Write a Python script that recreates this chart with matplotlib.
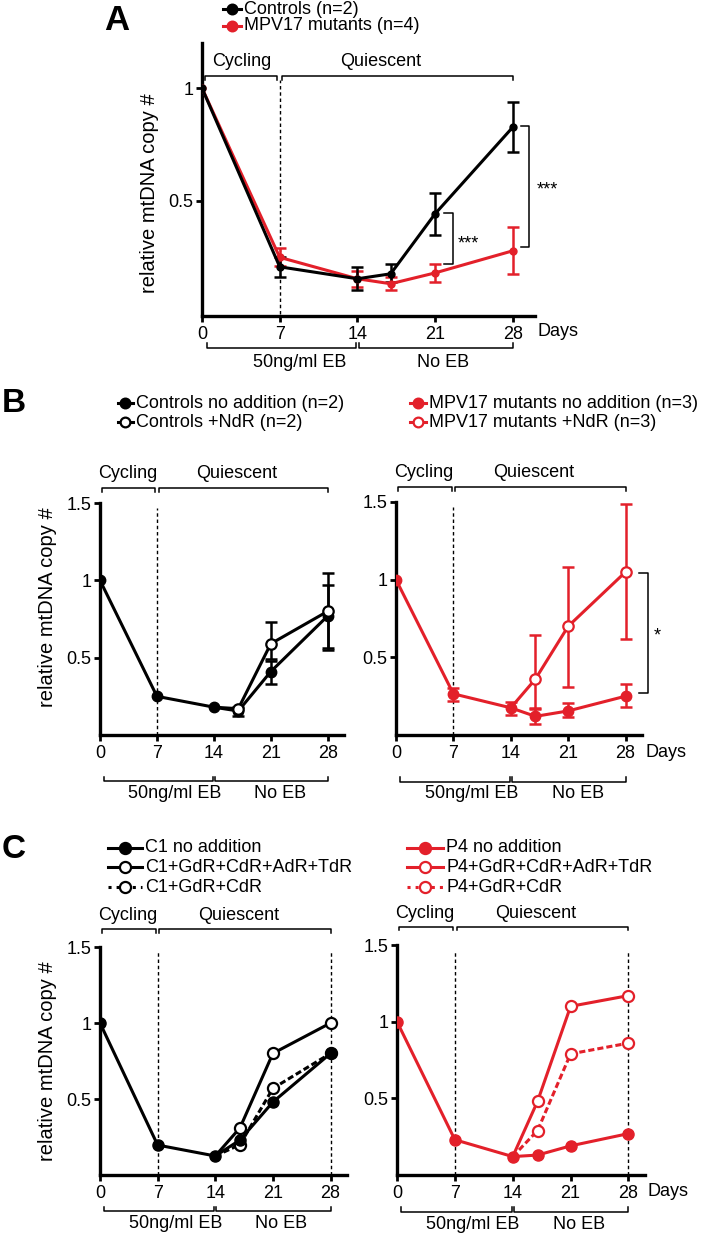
import matplotlib
matplotlib.use("Agg")
import matplotlib.pyplot as plt
from matplotlib.lines import Line2D

plt.rcParams['font.family'] = ['Liberation Sans', 'DejaVu Sans']

RED = '#e3202a'
W, H = 710, 1235

days = [0, 7, 14, 17, 21, 28]
late_days = [14, 17, 21, 28]
xticks = [0, 7, 14, 21, 28]

# panel A
a_ctrl = [1.0, 0.208, 0.155, 0.177, 0.443, 0.827]
a_ctrl_lo = [None, 0.165, 0.105, 0.14, 0.35, 0.717]
a_ctrl_hi = [None, 0.25, 0.205, 0.22, 0.535, 0.94]
a_mut = [1.0, 0.25, 0.155, 0.133, 0.181, 0.279]
a_mut_lo = [None, 0.21, 0.12, 0.105, 0.14, 0.177]
a_mut_hi = [None, 0.29, 0.19, 0.165, 0.22, 0.385]

# panel B
b_ctrl = [1.0, 0.25, 0.18, 0.155, 0.41, 0.77]
b_ctrl_lo = [None, None, None, 0.12, 0.33, 0.55]
b_ctrl_hi = [None, None, None, 0.18, 0.48, 1.05]
b_ctrl_ndr = [0.18, 0.17, 0.59, 0.80]
b_ctrl_ndr_lo = [None, None, 0.49, 0.56]
b_ctrl_ndr_hi = [None, None, 0.73, 0.97]
b_mut = [1.0, 0.265, 0.175, 0.12, 0.155, 0.25]
b_mut_lo = [None, 0.22, 0.13, 0.07, 0.115, 0.18]
b_mut_hi = [None, 0.30, 0.21, 0.175, 0.205, 0.33]
b_mut_ndr = [0.175, 0.36, 0.70, 1.05]
b_mut_ndr_lo = [None, 0.17, 0.31, 0.62]
b_mut_ndr_hi = [None, 0.645, 1.08, 1.49]

# panel C
c1 = [1.0, 0.197, 0.125, 0.23, 0.48, 0.80]
c1_all = [0.125, 0.31, 0.80, 1.0]
c1_gc = [0.125, 0.20, 0.57, 0.80]
p4 = [1.0, 0.23, 0.12, 0.13, 0.19, 0.27]
p4_all = [0.12, 0.48, 1.10, 1.17]
p4_gc = [0.12, 0.29, 0.79, 0.86]

FS = 13
YFS = 14.5


def setup(ax, ylim, yticks, ylabels):
    ax.set_xlim(0, 30)
    ax.set_ylim(*ylim)
    ax.spines['top'].set_visible(False)
    ax.spines['right'].set_visible(False)
    ax.spines['left'].set_linewidth(2.4)
    ax.spines['bottom'].set_linewidth(2.4)
    ax.set_xticks(xticks)
    ax.set_yticks(yticks)
    ax.set_yticklabels(ylabels)
    ax.tick_params(direction='out', length=4, width=2, labelsize=FS, pad=2)
    ax.tick_params(axis='x', pad=3.5)


def errs(ax, x, y, lo, hi, color):
    xs, ys, el, eh = [], [], [], []
    for xi, yi, l, h in zip(x, y, lo, hi):
        if l is None:
            continue
        xs.append(xi); ys.append(yi); el.append(yi - l); eh.append(h - yi)
    ax.errorbar(xs, ys, yerr=[el, eh], fmt='none', ecolor=color,
                elinewidth=1.8, capsize=4, capthick=1.8, zorder=2)


def phase(ax, y, tick, ty, cx, qx):
    for x0, x1 in [(0.25, 6.8), (7.2, 28)]:
        ax.plot([x0, x0, x1, x1], [y - tick, y, y, y - tick], color='k',
                lw=1.1, clip_on=False)
    ax.text(cx, ty, 'Cycling', ha='center', va='center', fontsize=FS)
    ax.text(qx, ty, 'Quiescent', ha='center', va='center', fontsize=FS)


def eb(ax, y, tick, ty, ex, nx):
    for x0, x1 in [(0.45, 13.9), (14.1, 28)]:
        ax.plot([x0, x0, x1, x1], [y + tick, y, y, y + tick], color='k',
                lw=1.1, clip_on=False)
    ax.text(ex, ty, '50ng/ml EB', ha='center', va='center', fontsize=FS)
    ax.text(nx, ty, 'No EB', ha='center', va='center', fontsize=FS)


def sig(ax, x, y0, y1, w, label, lx, ly):
    ax.plot([x - w, x, x, x - w], [y1, y1, y0, y0], color='k', lw=1.1,
            clip_on=False)
    ax.text(lx, ly, label, ha='center', va='center', fontsize=FS)


def vdash(ax, x, top):
    ax.plot([x, x], [0, top], color='k', lw=1, ls=(0, (2.5, 2)), clip_on=False)


def open_series(ax, y, color, ls='-', ms=7.5, z=3):
    ax.plot(late_days, y, color=color, lw=2.2, ls=ls, marker='o', ms=ms,
            mfc='white', mec=color, mew=1.6, markevery=[1, 2, 3], zorder=z)


def leg_entry(fig, px, py, color, text, filled=True, x0=None, x1=None,
              ls='-', ms=7):
    fx = lambda v: v / W
    fy = 1 - py / H
    if x0 is not None:
        fig.add_artist(Line2D([fx(x0), fx(x1)], [fy, fy], color=color, lw=2.2,
                              ls=ls, transform=fig.transFigure))
    fig.add_artist(Line2D([fx(px)], [fy], marker='o', ms=ms, color=color,
                          mfc=color if filled else 'white', mec=color,
                          mew=1.6, transform=fig.transFigure))
    end = x1 if x1 is not None else px + 8
    fig.text(fx(end + 3), fy, text, ha='left', va='center', fontsize=FS)


fig = plt.figure(figsize=(W / 100, H / 100), dpi=100)

# ---------------- A ----------------
axA = fig.add_axes([202 / W, 1 - 316 / H, 333 / W, 273 / H])
setup(axA, (-0.01, 1.2), [0.5, 1], ['0.5', '1'])
vdash(axA, 7, 1.035)
errs(axA, days, a_mut, a_mut_lo, a_mut_hi, RED)
axA.plot(days, a_mut, color=RED, lw=2.2, marker='o', ms=5, zorder=3)
errs(axA, days, a_ctrl, a_ctrl_lo, a_ctrl_hi, 'k')
axA.plot(days, a_ctrl, color='k', lw=2.2, marker='o', ms=5, zorder=4)
axA.set_ylabel('relative mtDNA copy #', fontsize=YFS)
axA.yaxis.set_label_coords(-0.13, 0.45)
phase(axA, 1.053, 0.018, 1.117, 3.6, 16.1)
eb(axA, -0.15, 0.02, -0.215, 8.8, 21.7)
sig(axA, 22.6, 0.22, 0.447, 0.8, '***', 24.0, 0.31)
sig(axA, 29.5, 0.297, 0.83, 0.8, '***', 31.1, 0.55)
axA.text(30.2, -0.08, 'Days', ha='left', va='center', fontsize=FS)

fig.text(117 / W, 1 - 20 / H, 'A', ha='center', va='center', fontsize=25,
         fontweight='bold')
leg_entry(fig, 232, 9, 'k', 'Controls (n=2)', x0=223, x1=241, ms=7)
leg_entry(fig, 232, 26, RED, 'MPV17 mutants (n=4)', x0=223, x1=241, ms=7)

# ---------------- B ----------------
axB1 = fig.add_axes([100 / W, 1 - 735 / H, 244 / W, 232 / H])
axB2 = fig.add_axes([396 / W, 1 - 735 / H, 246 / W, 233 / H])
for ax in (axB1, axB2):
    setup(ax, (0, 1.5), [0.5, 1, 1.5], ['0.5', '1', '1.5'])
    vdash(ax, 7, 1.47)
    phase(ax, 1.597, 0.025, 1.69, 3.4, 16.8)
    eb(ax, -0.3, 0.03, -0.375, 9.2, 22.2)

errs(axB1, days, b_ctrl, b_ctrl_lo, b_ctrl_hi, 'k')
errs(axB1, late_days, b_ctrl_ndr, b_ctrl_ndr_lo, b_ctrl_ndr_hi, 'k')
axB1.plot(days, b_ctrl, color='k', lw=2.2, marker='o', ms=7.5, zorder=3)
open_series(axB1, b_ctrl_ndr, 'k', z=4)
axB1.set_ylabel('relative mtDNA copy #', fontsize=YFS)
axB1.yaxis.set_label_coords(-0.175, 0.55)

errs(axB2, days, b_mut, b_mut_lo, b_mut_hi, RED)
errs(axB2, late_days, b_mut_ndr, b_mut_ndr_lo, b_mut_ndr_hi, RED)
axB2.plot(days, b_mut, color=RED, lw=2.2, marker='o', ms=7.5, zorder=3)
open_series(axB2, b_mut_ndr, RED, z=4)
sig(axB2, 30.7, 0.27, 1.045, 1.1, '*', 31.9, 0.64)
axB2.text(30.4, -0.11, 'Days', ha='left', va='center', fontsize=FS)

fig.text(14 / W, 1 - 403 / H, 'B', ha='center', va='center', fontsize=24,
         fontweight='bold')
leg_entry(fig, 125, 403, 'k', 'Controls no addition (n=2)', x0=118, x1=133, ms=7)
leg_entry(fig, 125, 422, 'k', 'Controls +NdR (n=2)', filled=False, x0=118, x1=133, ms=7)
leg_entry(fig, 418, 403, RED, 'MPV17 mutants no addition (n=3)', x0=410, x1=426, ms=7)
leg_entry(fig, 418, 422, RED, 'MPV17 mutants +NdR (n=3)', filled=False, x0=410, x1=426, ms=7)

# ---------------- C ----------------
axC1 = fig.add_axes([100 / W, 1 - 1175 / H, 247 / W, 228 / H])
axC2 = fig.add_axes([397 / W, 1 - 1175 / H, 248 / W, 230 / H])
for ax in (axC1, axC2):
    setup(ax, (0, 1.5), [0.5, 1, 1.5], ['0.5', '1', '1.5'])
    vdash(ax, 7, 1.47)
    vdash(ax, 28, 1.47)
    phase(ax, 1.62, 0.025, 1.705, 3.4, 16.8)
    eb(ax, -0.24, 0.03, -0.32, 9.2, 22.0)

open_series(axC1, c1_gc, 'k', ls=(0, (2, 1)), ms=8, z=2)
axC1.plot(days, c1, color='k', lw=2.2, marker='o', ms=8, zorder=3)
open_series(axC1, c1_all, 'k', ms=8, z=4)
axC1.set_ylabel('relative mtDNA copy #', fontsize=YFS)
axC1.yaxis.set_label_coords(-0.175, 0.5)

open_series(axC2, p4_gc, RED, ls=(0, (2, 1)), ms=8, z=2)
axC2.plot(days, p4, color=RED, lw=2.2, marker='o', ms=8, zorder=3)
open_series(axC2, p4_all, RED, ms=8, z=4)
axC2.text(30.3, -0.11, 'Days', ha='left', va='center', fontsize=FS)

fig.text(14 / W, 1 - 850 / H, 'C', ha='center', va='center', fontsize=24,
         fontweight='bold')
leg_entry(fig, 125, 848, 'k', 'C1 no addition', x0=108, x1=142, ms=8)
leg_entry(fig, 125, 867, 'k', 'C1+GdR+CdR+AdR+TdR', filled=False, x0=108, x1=142, ms=8)
leg_entry(fig, 125, 887, 'k', 'C1+GdR+CdR', filled=False, x0=108, x1=142, ls=':', ms=8)
leg_entry(fig, 425, 848, RED, 'P4 no addition', x0=407, x1=443, ms=8)
leg_entry(fig, 425, 867, RED, 'P4+GdR+CdR+AdR+TdR', filled=False, x0=407, x1=443, ms=8)
leg_entry(fig, 425, 887, RED, 'P4+GdR+CdR', filled=False, x0=407, x1=443, ls=':', ms=8)

fig.savefig('out.png', dpi=100)
